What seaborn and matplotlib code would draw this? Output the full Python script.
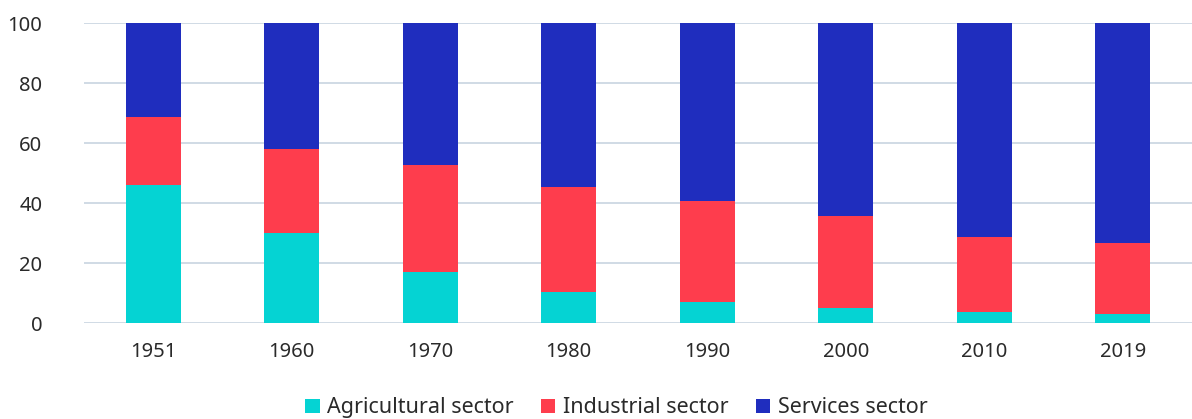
import numpy as np
import pandas as pd
import seaborn as sns
import matplotlib as mpl
from matplotlib import pyplot as plt
from matplotlib.patches import Patch

years = ['1951', '1960', '1970', '1980', '1990', '2000', '2010', '2019']
agricultural = [46.0, 30.0, 17.1, 10.2, 7.1, 4.9, 3.8, 3.1]
industrial = [22.7, 28.0, 35.6, 35.0, 33.6, 30.8, 24.9, 23.5]
services = [31.3, 42.0, 47.3, 54.8, 59.3, 64.3, 71.3, 73.4]

labels = ['Agricultural sector', 'Industrial sector', 'Services sector']
colors = ['#05d3d3', '#fe3d4d', '#1f2dbe']

sns.set_style('white')
plt.rcParams['font.family'] = ['Noto Sans', 'DejaVu Sans']

df = pd.DataFrame({'year': years, 'agri': agricultural,
                   'ind': industrial, 'serv': services})
# cumulative tops so the taller bars sit behind the shorter ones
df['top_ind'] = df['agri'] + df['ind']
df['top_serv'] = df['top_ind'] + df['serv']

fig = plt.figure(figsize=(11.92, 4.19), dpi=100)
ax = fig.add_axes([0.0705, 0.229, 0.9295, 0.716])

for col, c in zip(['top_serv', 'top_ind', 'agri'], colors[::-1]):
    sns.barplot(data=df, x='year', y=col, color=c, width=0.4,
                saturation=1, order=years, ax=ax, zorder=3, linewidth=0)

ax.set_ylim(0, 100)
ax.set_xlim(-0.5, 7.5)
ax.set_yticks([0, 20, 40, 60, 80, 100])
ax.yaxis.grid(True, color='#d0dae5', linewidth=1.4, zorder=0)
ax.set_axisbelow(True)
for s in ax.spines.values():
    s.set_visible(False)
ax.set_xlabel('')
ax.set_ylabel('')
ax.tick_params(axis='both', length=0, labelsize=14.5, colors='#2a2a2a')
ax.tick_params(axis='x', pad=14)
ax.tick_params(axis='y', pad=30)

handles = [Patch(facecolor=c, edgecolor='none') for c in colors]
fig.legend(handles, labels, loc='lower center', bbox_to_anchor=(0.517, -0.045),
           ncol=3, frameon=False, fontsize=15.5, handlelength=0.68,
           handleheight=0.68, handletextpad=0.35, columnspacing=1.25,
           labelcolor='#2a2a2a')

plt.savefig('out.png', dpi=100)
